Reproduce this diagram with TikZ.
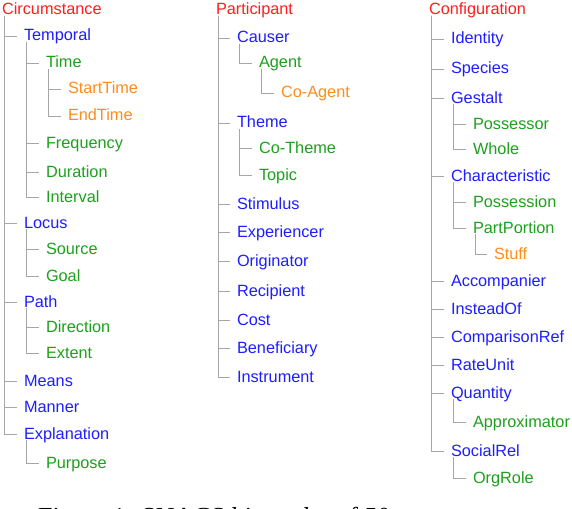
\documentclass[tikz,border=0pt]{standalone}
\usepackage{fontspec}
\setmainfont{Liberation Sans}
\newfontfamily\capfont{Liberation Serif}
\usepackage{xcolor}
\usetikzlibrary{positioning}

\definecolor{snred}{RGB}{255,30,30}
\definecolor{snblue}{RGB}{30,30,255}
\definecolor{sngreen}{RGB}{30,160,30}
\definecolor{snorange}{RGB}{255,140,30}

\begin{document}
\begin{tikzpicture}[
x=1pt, y=-1pt,
lbl/.style={anchor=west, inner sep=0pt, outer sep=0pt, font=\fontsize{16.3}{18}\selectfont, text height=12pt, text depth=2pt},
top/.style={lbl, text=snred},
cat/.style={lbl, text=snblue},
sub/.style={lbl, text=sngreen},
subsub/.style={lbl, text=snorange},
br/.style={draw=black!35, line width=0.9pt}
]
\clip[use as bounding box] (0,0) rectangle (572,508);
\fill[white] (0,0) rectangle (572,508);

% Circumstance
\node[top] (circ) at (2,10) {Circumstance};
\node[cat] (temporal) at (24,36) {Temporal};
\node[sub] (time) at (46,63) {Time};
\node[subsub] (starttime) at (68,89) {StartTime};
\node[subsub] (endtime) at (68,116) {EndTime};
\node[sub] (frequency) at (46,143) {Frequency};
\node[sub] (duration) at (46,172) {Duration};
\node[sub] (interval) at (46,197) {Interval};
\node[cat] (locus) at (24,223) {Locus};
\node[sub] (source) at (46,249) {Source};
\node[sub] (goal) at (46,276) {Goal};
\node[cat] (path) at (24,302) {Path};
\node[sub] (direction) at (46,327) {Direction};
\node[sub] (extent) at (46,353) {Extent};
\node[cat] (means) at (24,381) {Means};
\node[cat] (manner) at (24,407) {Manner};
\node[cat] (explanation) at (24,434) {Explanation};
\node[sub] (purpose) at (46,463) {Purpose};

% Participant
\node[top] (part) at (216,10) {Participant};
\node[cat] (causer) at (237,38) {Causer};
\node[sub] (agent) at (259,63) {Agent};
\node[subsub] (coagent) at (281,93) {Co-Agent};
\node[cat] (theme) at (237,123) {Theme};
\node[sub] (cotheme) at (259,148) {Co-Theme};
\node[sub] (topic) at (259,175) {Topic};
\node[cat] (stimulus) at (237,204) {Stimulus};
\node[cat] (experiencer) at (237,232) {Experiencer};
\node[cat] (originator) at (237,261) {Originator};
\node[cat] (recipient) at (237,291) {Recipient};
\node[cat] (cost) at (237,320) {Cost};
\node[cat] (beneficiary) at (237,348) {Beneficiary};
\node[cat] (instrument) at (237,377) {Instrument};

% Configuration
\node[top] (config) at (429,10) {Configuration};
\node[cat] (identity) at (451,39) {Identity};
\node[cat] (species) at (451,69) {Species};
\node[cat] (gestalt) at (451,98) {Gestalt};
\node[sub] (possessor) at (473,124) {Possessor};
\node[sub] (whole) at (473,149) {Whole};
\node[cat] (characteristic) at (451,176) {Characteristic};
\node[sub] (possession) at (473,202) {Possession};
\node[sub] (partportion) at (473,228) {PartPortion};
\node[subsub] (stuff) at (494,254) {Stuff};
\node[cat] (accompanier) at (451,281) {Accompanier};
\node[cat] (insteadof) at (451,309) {InsteadOf};
\node[cat] (comparisonref) at (451,337) {ComparisonRef};
\node[cat] (rateunit) at (451,365) {RateUnit};
\node[cat] (quantity) at (451,393) {Quantity};
\node[sub] (approximator) at (473,422) {Approximator};
\node[cat] (socialrel) at (451,451) {SocialRel};
\node[sub] (orgrole) at (473,478) {OrgRole};

% branches
\foreach \p/\c in {circ/temporal, circ/locus, circ/path, circ/means, circ/manner, circ/explanation,
  temporal/time, temporal/frequency, temporal/duration, temporal/interval,
  time/starttime, time/endtime, locus/source, locus/goal, path/direction, path/extent,
  explanation/purpose,
  part/causer, part/theme, part/stimulus, part/experiencer, part/originator, part/recipient,
  part/cost, part/beneficiary, part/instrument, causer/agent, agent/coagent,
  theme/cotheme, theme/topic,
  config/identity, config/species, config/gestalt, config/characteristic, config/accompanier,
  config/insteadof, config/comparisonref, config/rateunit, config/quantity, config/socialrel,
  gestalt/possessor, gestalt/whole, characteristic/possession, characteristic/partportion,
  partportion/stuff, quantity/approximator, socialrel/orgrole}
  \draw[br] ([xshift=2pt,yshift=1pt]\p.south west) |- ([xshift=-7pt]\c.west);

\node[anchor=base west, inner sep=0pt, font=\capfont\fontsize{26}{30}\selectfont] (caption) at (38,525) {Figure 1: SNACS hierarchy of 50};
\end{tikzpicture}
\end{document}
